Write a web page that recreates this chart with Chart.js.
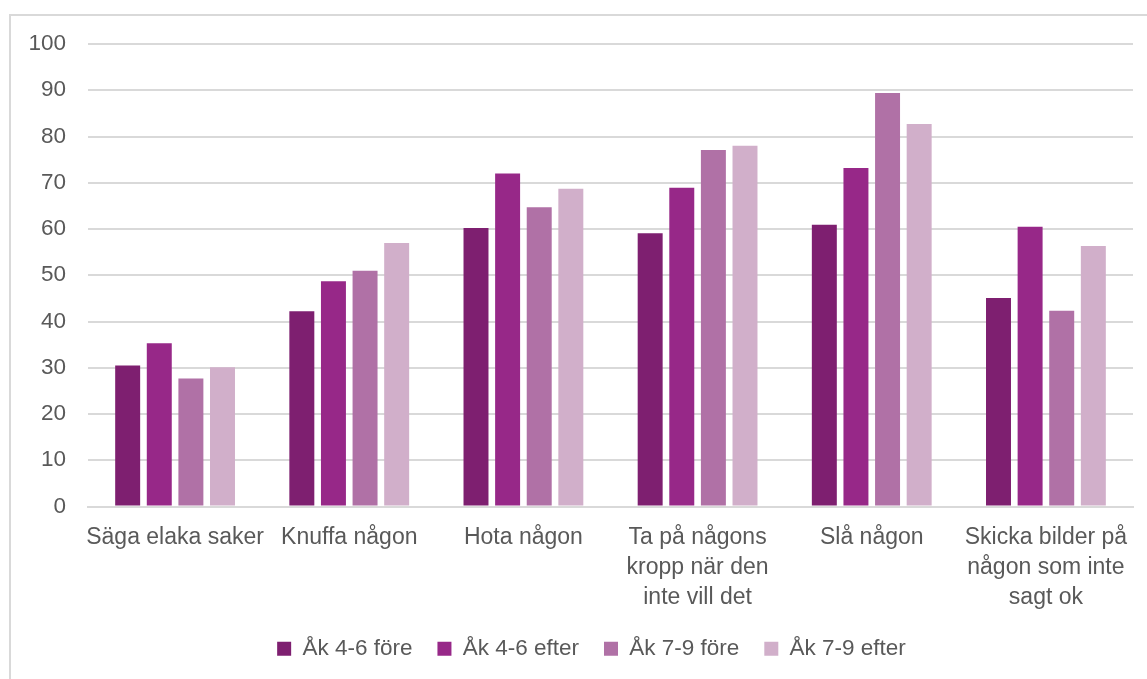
<!DOCTYPE html>
<html>
<head>
<meta charset="utf-8">
<script src="https://cdn.jsdelivr.net/npm/chart.js@4.4.1/dist/chart.umd.min.js"></script>
<style>
  html, body { margin: 0; padding: 0; background: #ffffff; }
  #wrap { position: relative; width: 1147px; height: 679px; overflow: hidden; }
  #frame { position: absolute; left: 9px; top: 14px; width: 1200px; height: 700px; border: 2px solid #d9d9d9; box-sizing: border-box; }
  canvas { position: absolute; left: 0; top: 0; }
</style>
</head>
<body>
<div id="wrap">
  <div id="frame"></div>
  <canvas id="c" width="1147" height="679"></canvas>
</div>
<script>
const categories = [
  "Säga elaka saker",
  "Knuffa någon",
  "Hota någon",
  ["Ta på någons", "kropp när den", "inte vill det"],
  "Slå någon",
  ["Skicka bilder på", "någon som inte", "sagt ok"]
];
const seriesNames = ["Åk 4-6 före", "Åk 4-6 efter", "Åk 7-9 före", "Åk 7-9 efter"];
const ak46fore  = [30.5, 42.2, 60.2, 59.1, 60.9, 45.1];
const ak46efter = [35.3, 48.7, 72.0, 68.9, 73.2, 60.5];
const ak79fore  = [27.7, 51.0, 64.7, 77.1, 89.4, 42.3];
const ak79efter = [30.1, 57.0, 68.7, 78.0, 82.7, 56.3];
const seriesColors = ["#7E1F70", "#972888", "#B071A6", "#D1AFCA"];
const yTicks = { min: 0, max: 100, step: 10 };

const FONT = "'Liberation Sans', Arial, sans-serif";
const TEXT = "#595959";
const GRID = "#d9d9d9";

const values = [ak46fore, ak46efter, ak79fore, ak79efter];
const datasets = seriesNames.map((name, i) => ({
  label: name,
  data: values[i],
  backgroundColor: seriesColors[i],
  borderWidth: 0,
  categoryPercentage: 0.726,
  barPercentage: 0.79
}));

// Shift the legend block slightly right, as in the reference
const legendShift = {
  id: "legendShift",
  afterLayout(chart) {
    const lg = chart.legend;
    if (lg) { lg.left += 25; lg.right += 25; }
  }
};

new Chart(document.getElementById("c"), {
  type: "bar",
  data: { labels: categories, datasets },
  plugins: [legendShift],
  options: {
    responsive: false,
    animation: false,
    devicePixelRatio: 1,
    layout: { padding: { top: 44, right: 14, bottom: 9, left: 0 } },
    plugins: {
      legend: {
        position: "bottom",
        labels: {
          color: TEXT,
          font: { family: FONT, size: 22.5 },
          boxWidth: 14,
          boxHeight: 14,
          padding: 25
        }
      },
      tooltip: { enabled: false }
    },
    scales: {
      x: {
        grid: { display: false, drawTicks: false },
        border: { display: true, color: GRID, width: 2 },
        ticks: {
          color: TEXT,
          font: { family: FONT, size: 23, lineHeight: 30 / 23 },
          maxRotation: 0,
          minRotation: 0,
          autoSkip: false,
          padding: 16
        },
        afterFit: (s) => { s.height = 106; }
      },
      y: {
        min: yTicks.min,
        max: yTicks.max,
        ticks: {
          stepSize: yTicks.step,
          color: TEXT,
          font: { family: FONT, size: 22.5 },
          padding: 22
        },
        grid: { color: GRID, lineWidth: 2, drawTicks: false },
        border: { display: false },
        afterFit: (s) => { s.width = 88; }
      }
    }
  }
});
</script>
</body>
</html>
